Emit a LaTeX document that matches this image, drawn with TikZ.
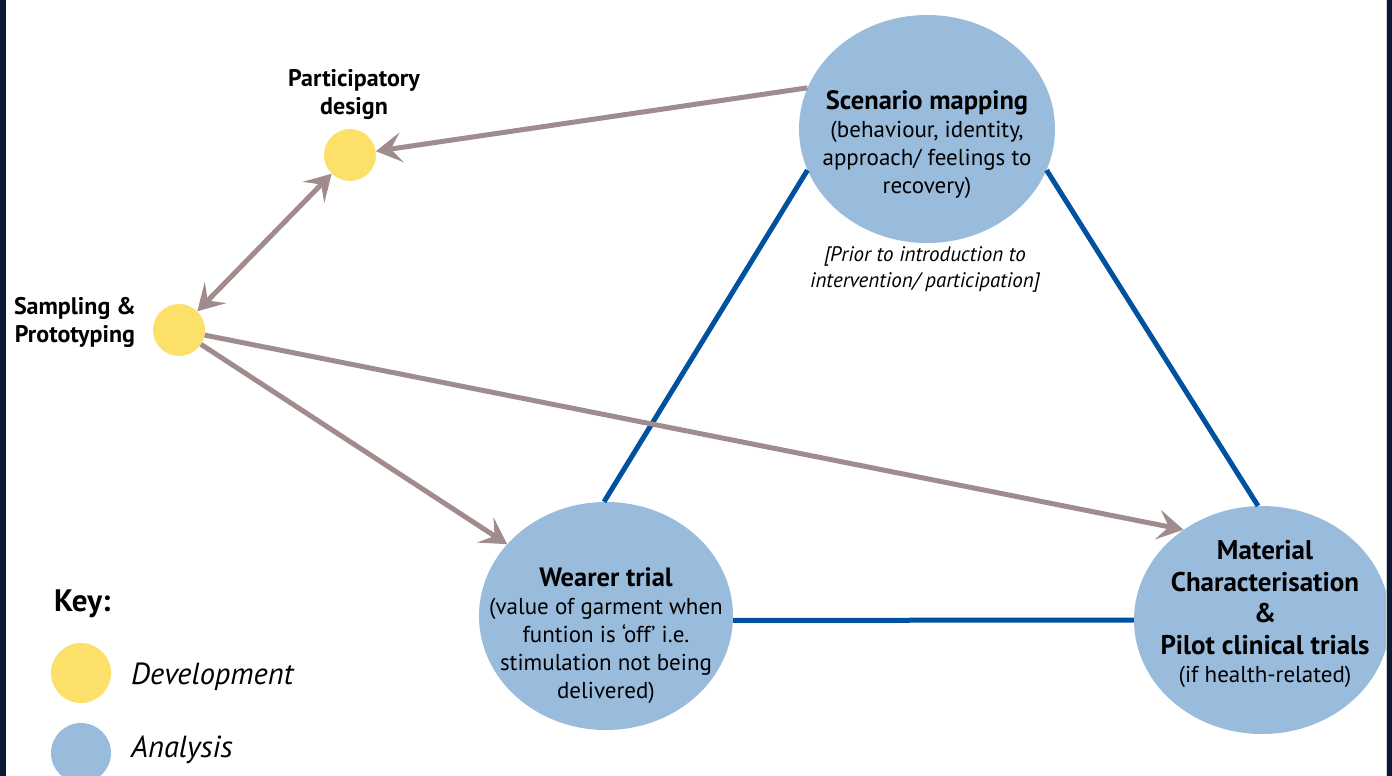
\documentclass[tikz,border=0pt]{standalone}
\usepackage{fontspec}
\setmainfont{PT Sans}
\usetikzlibrary{arrows.meta,shapes.geometric}
\definecolor{framenavy}{HTML}{0B1838}
\definecolor{linkbrown}{HTML}{A08C8C}
\definecolor{linkblue}{HTML}{0052A0}
\definecolor{phaseblue}{HTML}{99BBDC}
\definecolor{devyellow}{HTML}{FDE069}
\tikzset{
  analysis/.style={ellipse, fill=phaseblue, inner sep=0pt},
  devdot/.style={circle, fill=devyellow, inner sep=0pt, minimum size=52pt},
  keydot/.style={circle, inner sep=0pt, minimum size=60pt},
  flow/.style={draw=linkbrown, line width=5pt,
    -{Stealth[length=26pt,width=30pt,inset=11pt]}},
  twoway/.style={flow, {Stealth[length=26pt,width=30pt,inset=11pt]}-{Stealth[length=26pt,width=30pt,inset=11pt]}},
  tie/.style={draw=linkblue, line width=5pt},
  boldtxt/.style={font=\bfseries\fontsize{26}{30}\selectfont, align=center, inner sep=0pt},
  bodytxt/.style={font=\fontsize{23}{28}\selectfont, align=center, inner sep=0pt},
}
\newcommand{\phasetitle}[1]{{\bfseries\fontsize{26.5}{30}\selectfont #1}}
\begin{document}
\begin{tikzpicture}[x=1pt,y=-1pt]
\useasboundingbox (0,0) rectangle (1392,776);

% analysis phases
\node[analysis, minimum width=256pt, minimum height=228pt] (scen) at (927,129) {};
\node[analysis, minimum width=254pt, minimum height=228pt] (wear) at (606,616) {};
\node[analysis, minimum width=256pt, minimum height=228pt] (mat) at (1262,620) {};

% development steps
\node[devdot] (part) at (350,155) {};
\node[devdot] (samp) at (179,330) {};

% links between the analysis phases
\draw[tie] (scen.199) -- (wear.91);
\draw[tie] (scen.341) -- (mat.92);
\draw[tie] (wear.-2.3) -- (mat.180.4);

% development flows
\draw[flow] (scen.161) -- (part);
\draw[twoway] (samp) -- (part);
\draw[flow] (samp) -- (wear.144);
\draw[flow] (samp) -- (mat.131);

% phase texts
\node[bodytxt] (scentext) at (927,145)
  {\phasetitle{Scenario mapping}\\(behaviour, identity,\\approach/ feelings to\\recovery)};
\node[bodytxt] (weartext) at (606,636)
  {\phasetitle{Wearer trial}\\(value of garment when\\funtion is ‘off’ i.e.\\stimulation not being\\delivered)};
\node[boldtxt, font=\bfseries\fontsize{27}{31.5}\selectfont] (mattext) at (1265,614)
  {Material\\Characterisation\\\&\\Pilot clinical trials\\[-3pt]{\mdseries\fontsize{23}{28}\selectfont (if health-related)}};
\node[bodytxt, font=\itshape\fontsize{21}{26}\selectfont] (prior) at (925,269)
  {[Prior to introduction to\\intervention/ participation]};

% development labels
\node[boldtxt, font=\bfseries\fontsize{24}{28}\selectfont] (partlbl) at (354,95) {Participatory\\design};
\node[boldtxt, font=\bfseries\fontsize{24}{28}\selectfont] (samplbl) at (75,322) {Sampling \&\\Prototyping};

% key
\node[anchor=west, inner sep=0pt, font=\bfseries\fontsize{31}{34}\selectfont] (keylbl) at (54,604) {Key:};
\node[keydot, fill=devyellow] (keydev) at (81,673) {};
\node[keydot, fill=phaseblue] (keyana) at (81,753) {};
\node[anchor=west, inner sep=0pt, font=\itshape\fontsize{30.5}{34}\selectfont] (devlbl) at (131,677) {Development};
\node[anchor=west, inner sep=0pt, font=\itshape\fontsize{30.5}{34}\selectfont] (analbl) at (131,750) {Analysis};

% frame bars
\fill[framenavy] (0,0) rectangle (6,776);
\fill[black!20] (1385.5,0) rectangle (1387,776);
\fill[framenavy] (1387,0) rectangle (1392,776);
\end{tikzpicture}
\end{document}
